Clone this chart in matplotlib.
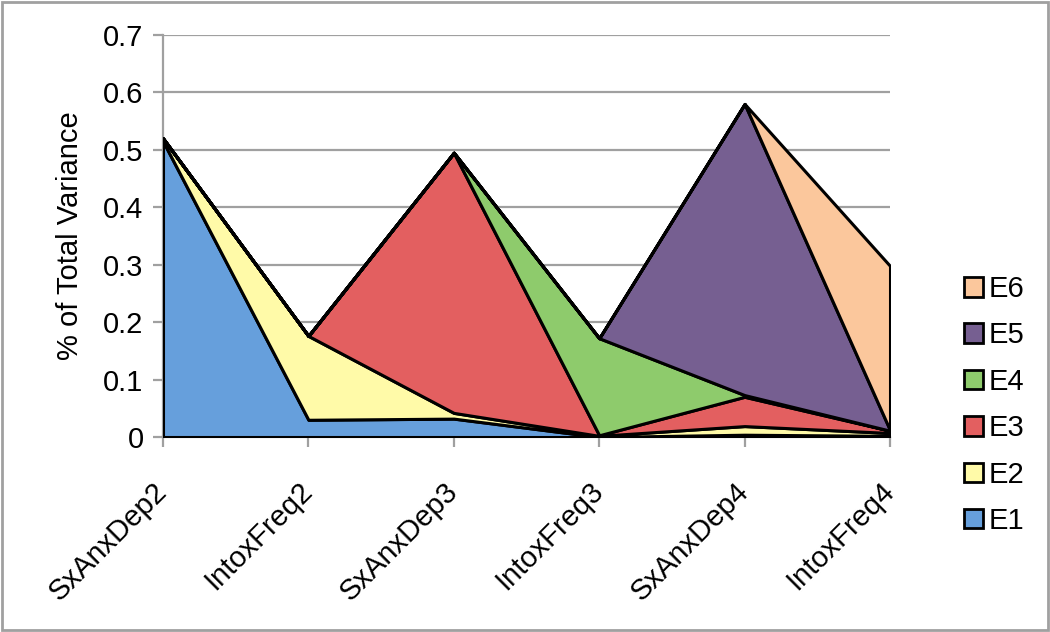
import matplotlib
matplotlib.use("Agg")
import matplotlib.pyplot as plt
import matplotlib.patches as mpatches
import numpy as np

plt.rcParams['font.family'] = ['Liberation Sans', 'DejaVu Sans']

categories = ["SxAnxDep2", "IntoxFreq2", "SxAnxDep3", "IntoxFreq3", "SxAnxDep4", "IntoxFreq4"]
series_names = ["E1", "E2", "E3", "E4", "E5", "E6"]
E1 = [0.515, 0.030, 0.032, 0.000, 0.004, 0.002]
E2 = [0.005, 0.146, 0.010, 0.002, 0.015, 0.005]
E3 = [0.000, 0.000, 0.453, 0.001, 0.051, 0.004]
E4 = [0.000, 0.000, 0.000, 0.169, 0.003, 0.000]
E5 = [0.000, 0.000, 0.000, 0.000, 0.507, 0.001]
E6 = [0.000, 0.000, 0.000, 0.000, 0.000, 0.286]
colors = ["#669FDC", "#FFFAA8", "#E35F60", "#8ECB6C", "#765F91", "#FBC79C"]

fig = plt.figure(figsize=(10.5, 6.32), dpi=100)
ax = fig.add_axes([163/1050, 1-437/632, (890-163)/1050, (437-35)/632])

x = np.arange(len(categories))
ax.stackplot(x, E1, E2, E3, E4, E5, E6, colors=colors, edgecolor="black",
             linewidth=2.2, zorder=3)

ax.set_xlim(0, len(categories)-1)
ax.set_ylim(0, 0.7)
ax.set_yticks(np.arange(0, 0.71, 0.1))
ax.set_yticklabels(["0", "0.1", "0.2", "0.3", "0.4", "0.5", "0.6", "0.7"])
ax.set_xticks(x)
ax.set_xticklabels(categories, rotation=45, ha="right", va="center", rotation_mode="anchor")
ax.yaxis.grid(True, color="#A0A0A0", linewidth=1.6, zorder=0)
ax.set_axisbelow(True)
for s in ["top", "right"]:
    ax.spines[s].set_visible(False)
for s in ["left", "bottom"]:
    ax.spines[s].set_color("#A0A0A0")
    ax.spines[s].set_linewidth(1.6)
ax.tick_params(axis="both", colors="#A0A0A0", width=1.6, length=7, labelsize=21,
               labelcolor="black", pad=7)
ax.tick_params(axis="x", pad=29)
ax.set_ylabel("% of Total Variance", fontsize=21, labelpad=14)

handles = [mpatches.Patch(facecolor=c, edgecolor="black", linewidth=2) for c in colors]
leg = fig.legend(handles[::-1], series_names[::-1], loc="center left",
                 bbox_to_anchor=(0.918, 1-405/632), frameon=False, fontsize=21,
                 handlelength=0.65, handleheight=0.65, labelspacing=0.63, handletextpad=0.2,
                 borderpad=0, borderaxespad=0)

fig.patches.append(mpatches.Rectangle((0.002, 0.003), 0.996, 0.994, transform=fig.transFigure,
                                      fill=False, edgecolor="#A0A0A0", linewidth=2))

fig.savefig("out.png", dpi=100)
